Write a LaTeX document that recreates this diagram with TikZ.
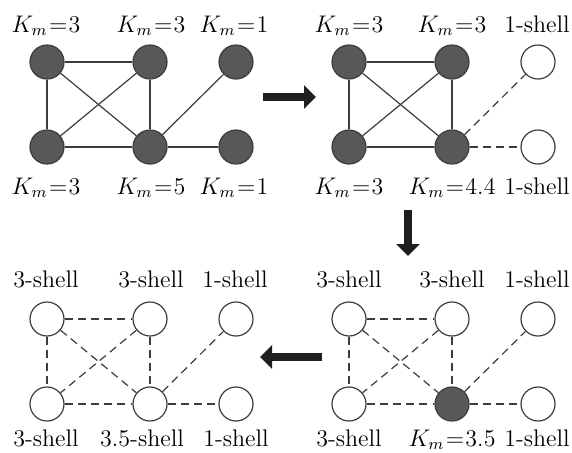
\documentclass[tikz,border=0pt]{standalone}
\usepackage{xcolor}
\definecolor{coregray}{RGB}{88,88,88}
\definecolor{edgegray}{RGB}{60,60,60}
\usetikzlibrary{arrows.meta}
\usetikzlibrary{positioning}

\tikzset{
  core/.style={circle, draw=edgegray, fill=coregray, line width=0.6pt, minimum size=17pt, inner sep=0pt},
  shell/.style={circle, draw=edgegray, fill=white, line width=0.6pt, minimum size=17pt, inner sep=0pt},
  link/.style={draw=edgegray, line width=0.6pt},
  dlink/.style={link, dash pattern=on 4pt off 2.6pt},
  tag/.style={anchor=base, inner sep=0pt, font=\fontsize{12}{15}\selectfont},
  bigarrow/.style={line width=4pt, black!88, -{Triangle[length=6pt, width=11.5pt]}}
}
\newcommand{\km}[1]{$K_m\mkern1mu{=}\mkern1mu#1$}

\begin{document}
\begin{tikzpicture}[x=0.5pt, y=-0.5pt]
  \useasboundingbox (0,0) rectangle (572,452);

  % top left: all nodes still in the core
  \foreach \n/\x/\y/\s in {1/47/62/core, 2/150/62/core, 3/236/62/core,
                           4/47/147/core, 5/150/147/core, 6/236/147/core} {
    \node [\s] (a\n) at (\x,\y) {};
  }
  % top right
  \foreach \n/\x/\y/\s in {1/349/62/core, 2/452/62/core, 3/538/62/shell,
                           4/349/147/core, 5/452/147/core, 6/538/147/shell} {
    \node [\s] (b\n) at (\x,\y) {};
  }
  % bottom right
  \foreach \n/\x/\y/\s in {1/349/319/shell, 2/452/319/shell, 3/538/319/shell,
                           4/349/404/shell, 5/452/404/core, 6/538/404/shell} {
    \node [\s] (c\n) at (\x,\y) {};
  }
  % bottom left
  \foreach \n/\x/\y/\s in {1/47/319/shell, 2/150/319/shell, 3/236/319/shell,
                           4/47/404/shell, 5/150/404/shell, 6/236/404/shell} {
    \node [\s] (d\n) at (\x,\y) {};
  }

  % edges
  \foreach \u/\v in {1/2,1/4,1/5,2/4,2/5,4/5,5/3,5/6} {
    \draw [link] (a\u) -- (a\v);
    \draw [dlink] (c\u) -- (c\v);
    \draw [dlink] (d\u) -- (d\v);
  }
  \foreach \u/\v in {1/2,1/4,1/5,2/4,2/5,4/5} {
    \draw [link] (b\u) -- (b\v);
  }
  \draw [dlink] (b5) -- (b3);
  \draw [dlink] (b5) -- (b6);

  % labels
  \node [tag] (ta1) at (46,32) {\km{3}};
  \node [tag] (ta2) at (151,32) {\km{3}};
  \node [tag] (ta3) at (234,32) {\km{1}};
  \node [tag] (ta4) at (46,194) {\km{3}};
  \node [tag] (ta5) at (151,194) {\km{5}};
  \node [tag] (ta6) at (234,194) {\km{1}};

  \node [tag] (tb1) at (349,32) {\km{3}};
  \node [tag] (tb2) at (452,32) {\km{3}};
  \node [tag] (tb3) at (537,32) {1-shell};
  \node [tag] (tb4) at (349,194) {\km{3}};
  \node [tag] (tb5) at (452,194) {\km{4.4}};
  \node [tag] (tb6) at (537,194) {1-shell};

  \node [tag] (tc1) at (349,287) {3-shell};
  \node [tag] (tc2) at (452,287) {3-shell};
  \node [tag] (tc3) at (537,287) {1-shell};
  \node [tag] (tc4) at (349,446) {3-shell};
  \node [tag] (tc5) at (452,446) {\km{3.5}};
  \node [tag] (tc6) at (537,446) {1-shell};

  \node [tag] (td1) at (46,287) {3-shell};
  \node [tag] (td2) at (151,287) {3-shell};
  \node [tag] (td3) at (235,287) {1-shell};
  \node [tag] (td4) at (46,446) {3-shell};
  \node [tag] (td5) at (142,446) {3.5-shell};
  \node [tag] (td6) at (236,446) {1-shell};

  % step arrows
  \coordinate (s1) at (263,97);
  \coordinate (e1) at (316,97);
  \coordinate (s2) at (408,210);
  \coordinate (e2) at (408,256);
  \coordinate (s3) at (322,357);
  \coordinate (e3) at (260,357);
  \draw [bigarrow] (s1) -- (e1);
  \draw [bigarrow] (s2) -- (e2);
  \draw [bigarrow] (s3) -- (e3);
\end{tikzpicture}
\end{document}
